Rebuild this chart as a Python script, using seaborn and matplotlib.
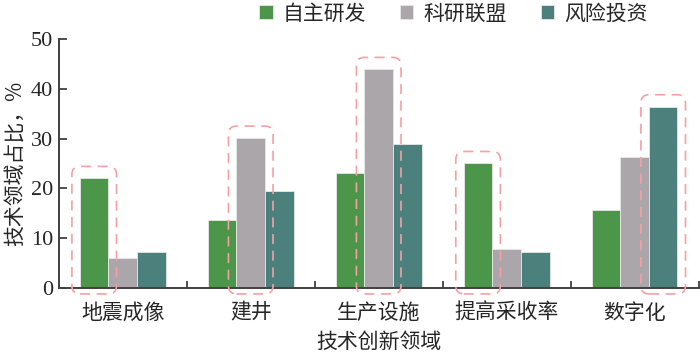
import pandas as pd
import matplotlib.pyplot as plt
import seaborn as sns
from matplotlib.patches import FancyBboxPatch
from matplotlib.ticker import FixedLocator

# data
fields = ['地震成像', '建井', '生产设施', '提高采收率', '数字化']
modes = ['自主研发', '科研联盟', '风险投资']
self_rd = [22.0, 13.7, 23.0, 25.0, 15.7]
alliance = [6.0, 30.1, 43.9, 7.8, 26.4]
venture = [7.2, 19.5, 29.0, 7.2, 36.4]
# which mode is circled in each field
highlight = ['自主研发', '科研联盟', '科研联盟', '自主研发', '风险投资']

palette = ['#4b9649', '#aaa6aa', '#4b807c']

df = pd.DataFrame({
    'field': fields * 3,
    'mode': [m for m in modes for _ in fields],
    'share': self_rd + alliance + venture,
})

sns.set_theme(style='white')
plt.rcParams['font.family'] = ['Liberation Serif', 'Noto Sans CJK SC', 'DejaVu Sans']

fig = plt.figure(figsize=(7, 3.55), dpi=100)
ax = fig.add_axes([0.084, 0.189, 0.914, 0.701])

sns.barplot(data=df, x='field', y='share', hue='mode', order=fields,
            hue_order=modes, palette=palette, width=0.67, saturation=1,
            edgecolor='#e8e8e8', linewidth=0.6, ax=ax)

ax.set_xlim(-0.5, len(fields) - 0.5)
ax.set_ylim(0, 50)
ax.set_yticks([0, 10, 20, 30, 40, 50])
ax.xaxis.set_minor_locator(FixedLocator([i + 0.5 for i in range(len(fields))]))
ax.tick_params(axis='x', which='major', length=0, pad=10, labelsize=15)
ax.tick_params(axis='x', which='minor', direction='in', length=5, width=1.3,
               color='#404040', bottom=True)
ax.tick_params(axis='y', direction='in', length=6, width=1.3, color='#404040',
               labelsize=16, pad=4, left=True)
for lbl in ax.get_xticklabels():
    lbl.set_family(['Noto Sans CJK SC'])

for side in ['top', 'right']:
    ax.spines[side].set_visible(False)
for side in ['left', 'bottom']:
    ax.spines[side].set_color('#404040')
    ax.spines[side].set_linewidth(1.4)

ax.set_xlabel('技术创新领域', fontsize=15, labelpad=5,
              family=['Noto Sans CJK SC'])
ax.set_ylabel('技术领域占比，%', fontsize=15, labelpad=4,
              family=['Noto Sans CJK SC', 'Liberation Serif'])

handles, labels = ax.get_legend_handles_labels()
ax.legend_.remove()
fig.legend(handles, labels, loc='center', bbox_to_anchor=(0.648, 0.962),
           ncol=3, frameon=False, handlelength=0.65, handleheight=0.65,
           handletextpad=0.5, columnspacing=1.6,
           prop={'family': 'Noto Sans CJK SC', 'size': 15})

# dashed rounded boxes around the leading bar of each field
fig.canvas.draw()
bars = [p for p in ax.patches if p.get_height() > 0]
n = len(fields)
for i, m in enumerate(highlight):
    bar = bars[modes.index(m) * n + i]
    (x0, y0), (x1, y1) = ax.transData.transform(
        [(bar.get_x(), 0), (bar.get_x() + bar.get_width(), bar.get_height())])
    box = FancyBboxPatch((x0 - 8, y0 - 6), (x1 - x0) + 16, (y1 - y0) + 18,
                         boxstyle='round,pad=0,rounding_size=8',
                         transform=None, fill=False, edgecolor='#f5a0a5',
                         linewidth=1.2, linestyle=(0, (6, 4)), clip_on=False)
    fig.add_artist(box)

fig.savefig('out.png', dpi=100)
